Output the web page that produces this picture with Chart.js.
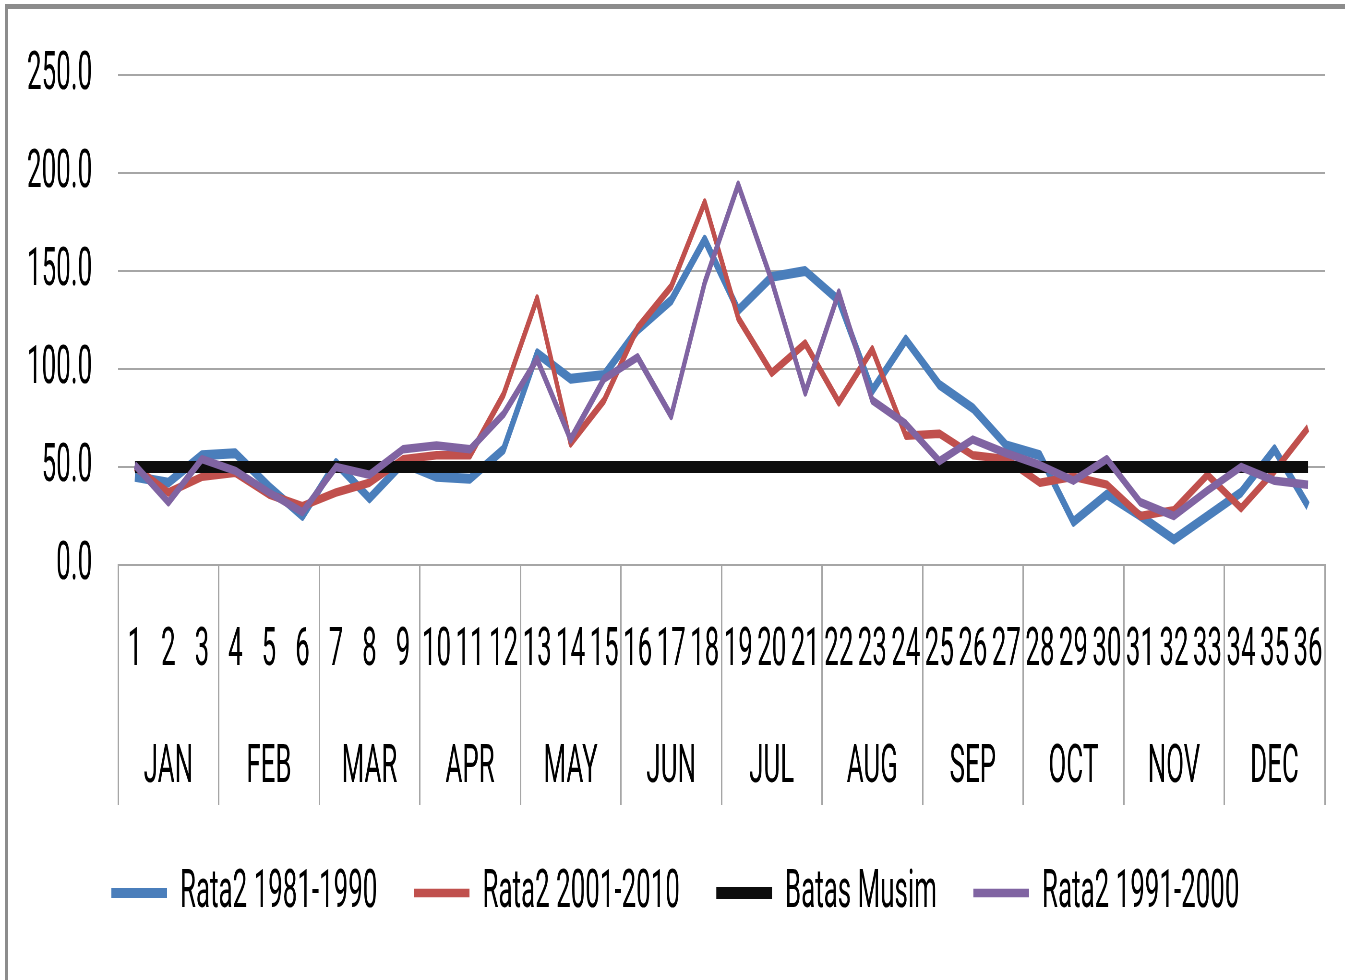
<!DOCTYPE html>
<html>
<head>
<meta charset="utf-8">
<script src="https://cdn.jsdelivr.net/npm/chart.js@4.4.1/dist/chart.umd.min.js"></script>
<style>
  html, body { margin: 0; padding: 0; background: #fff; overflow: hidden; width: 1345px; height: 980px; }
  #frame { position: absolute; left: 5px; top: 4px; width: 1345px; height: 980px;
           border-top: 5px solid #8c8c8c; border-left: 3px solid #8c8c8c; box-sizing: border-box; }
  #wrap { position: absolute; left: 0; top: 0; width: 1345px; height: 980px; overflow: hidden; }
  #c { position: absolute; left: 0; top: 0; transform-origin: 0 0; transform: scaleX(0.48); }
</style>
</head>
<body>
<div id="frame"></div>
<div id="wrap"><canvas id="c" width="2802" height="980"></canvas></div>
<script>
// ---- data ----
const periods = ['1','2','3','4','5','6','7','8','9','10','11','12','13','14','15','16','17','18',
                 '19','20','21','22','23','24','25','26','27','28','29','30','31','32','33','34','35','36'];
const months = ['JAN','FEB','MAR','APR','MAY','JUN','JUL','AUG','SEP','OCT','NOV','DEC'];
const seriesNames = ['Rata2 1981-1990','Rata2 2001-2010','Batas Musim','Rata2 1991-2000'];
const rata1981 = [45,42,56,57,40,25,52,34,52,45,44,59,108,95,97,120,135,166,130,147,150,135,89,115,92,80,61,56,22,36,25,13,25,37,59,30];
const rata2001 = [50,37,45,47,36,30,37,42,54,56,56,87,136,62,84,121,142,185,126,98,113,83,110,66,67,56,54,42,45,41,25,28,46,29,48,70];
const batasMusim = [50,50,50,50,50,50,50,50,50,50,50,50,50,50,50,50,50,50,50,50,50,50,50,50,50,50,50,50,50,50,50,50,50,50,50,50];
const rata1991 = [51,32,54,48,37,27,50,46,59,61,59,77,105,64,95,106,76,144,194,145,88,139,84,72,53,64,57,51,43,54,32,25,38,50,43,41];
const yMin = 0, yMax = 250, yStep = 50;

// labels: first line = period number, second line = month name at middle period of each month
const xLabels = periods.map((p, i) => [p, (i % 3 === 1) ? months[Math.floor(i / 3)] : '']);

const FONT = "Roboto, 'Liberation Sans', sans-serif";
const GRID = '#a6a6a6';

new Chart(document.getElementById('c'), {
  type: 'line',
  data: {
    labels: xLabels,
    datasets: [
      { label: seriesNames[0], data: rata1981, borderColor: '#4a7ebb', backgroundColor: '#4a7ebb', borderWidth: 10, order: 4 },
      { label: seriesNames[1], data: rata2001, borderColor: '#c0504d', backgroundColor: '#c0504d', borderWidth: 8.5, order: 3 },
      { label: seriesNames[2], data: batasMusim, borderColor: '#0d0d0d', backgroundColor: '#0d0d0d', borderWidth: 12, order: 2 },
      { label: seriesNames[3], data: rata1991, borderColor: '#8064a2', backgroundColor: '#8064a2', borderWidth: 8.5, order: 1 }
    ]
  },
  options: {
    responsive: false,
    devicePixelRatio: 1,
    animation: false,
    events: [],
    elements: { point: { radius: 0, hoverRadius: 0 }, line: { tension: 0, borderJoinStyle: 'round' } },
    layout: { padding: { left: 54, right: 42, top: 75, bottom: 50 } },
    scales: {
      x: {
        type: 'category',
        offset: true,
        grid: {
          offset: true,
          drawOnChartArea: false,
          drawTicks: true,
          tickLength: 240,
          lineWidth: 3,
          color: (ctx) => (ctx.index === undefined || ctx.index % 3 === 0) ? GRID : 'rgba(0,0,0,0)'
        },
        border: { display: true, color: GRID, width: 2 },
        ticks: {
          autoSkip: false, maxRotation: 0, minRotation: 0,
          color: '#000',
          padding: -212,
          font: { family: FONT, size: 54, lineHeight: 117 / 54 }
        },
        afterFit: (s) => { s.height = 225; }
      },
      y: {
        min: yMin, max: yMax,
        grid: { color: GRID, lineWidth: 2, drawTicks: false },
        border: { display: false },
        ticks: {
          stepSize: yStep,
          padding: 54,
          color: '#000',
          font: { family: FONT, size: 54, lineHeight: 0.7 },
          callback: (v) => Number(v).toFixed(1)
        },
        afterFit: (s) => { s.width = 192; }
      }
    },
    plugins: {
      tooltip: { enabled: false },
      title: { display: false },
      legend: {
        position: 'bottom',
        labels: {
          usePointStyle: true,
          pointStyle: 'line',
          pointStyleWidth: 116,
          padding: 76,
          color: '#000',
          font: { family: FONT, size: 54 },
          sort: (a, b) => a.datasetIndex - b.datasetIndex
        }
      }
    }
  }
});
</script>
</body>
</html>
